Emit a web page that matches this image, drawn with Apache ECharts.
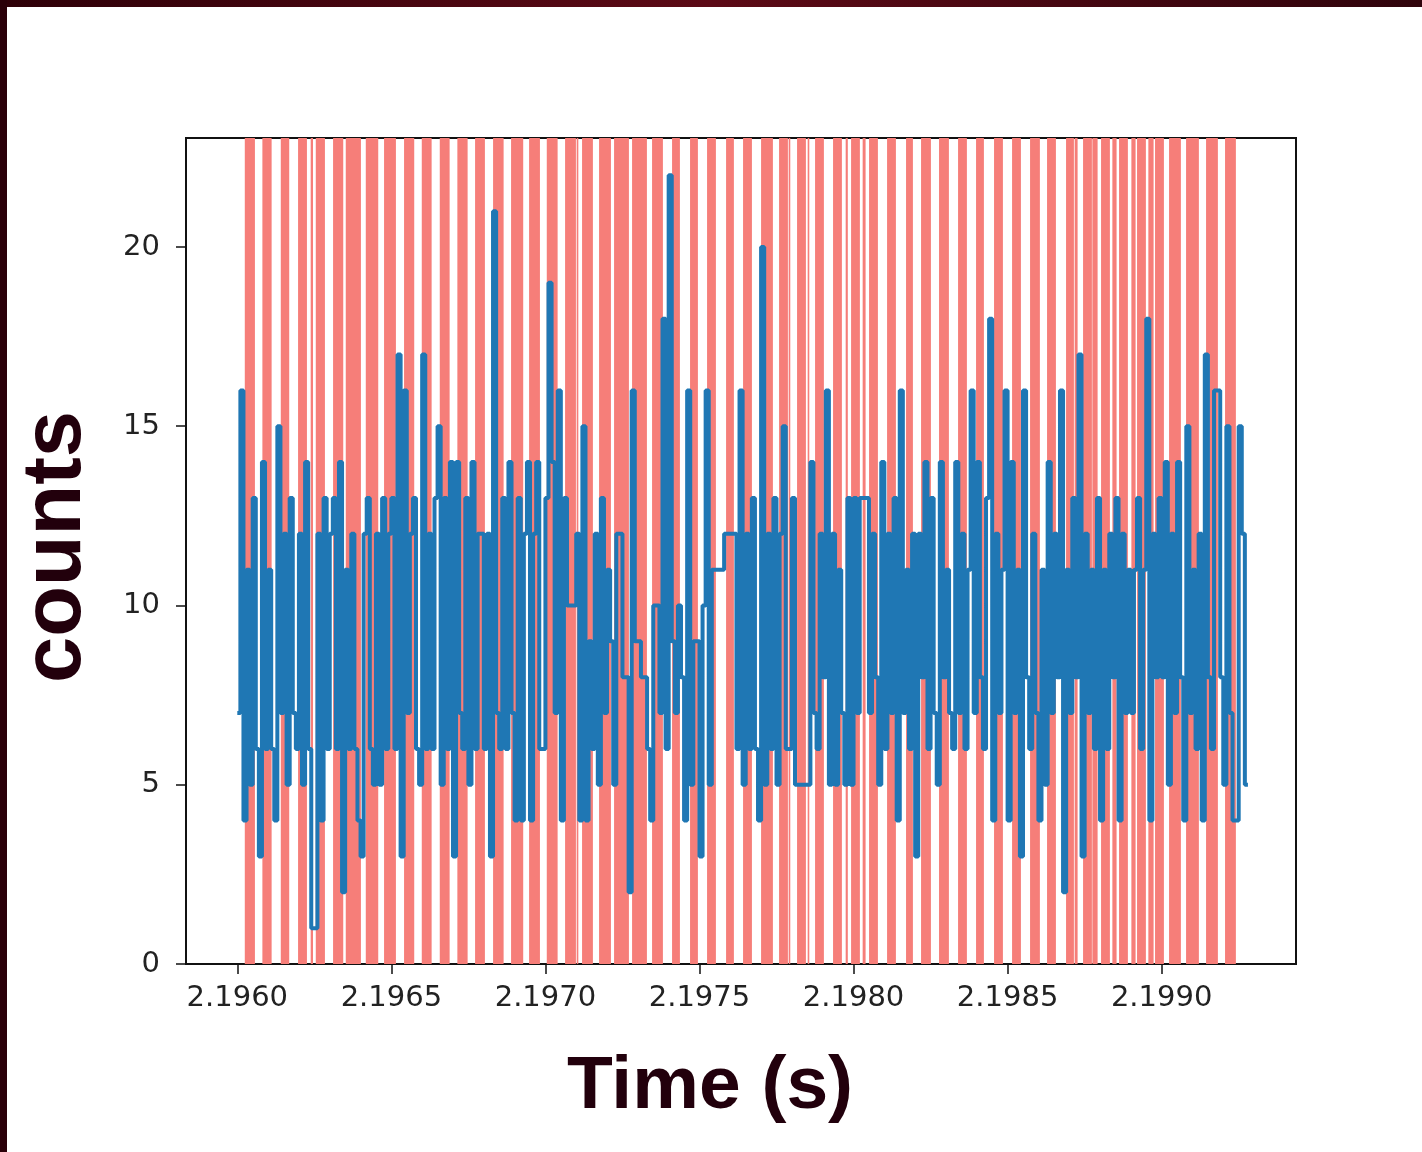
<!DOCTYPE html>
<html>
<head>
<meta charset="utf-8">
<script src="https://cdn.jsdelivr.net/npm/echarts@6/dist/echarts.min.js"></script>
<style>
  html, body { margin: 0; padding: 0; background: #ffffff; }
  #chart { width: 1422px; height: 1152px; }
</style>
</head>
<body>
<div id="chart"></div>
<script>
// ---- data ----
const binStart = 2.19600;     // s, left edge of first bin
const binWidth = 0.00001;     // s, bin width
const counts = [
  7,16,4,11,5,13,6,3,14,6,
  11,6,4,15,7,12,5,13,7,6,
  12,5,14,6,1,1,12,4,13,6,
  12,13,6,14,2,11,6,12,6,4,
  3,12,13,6,5,12,5,13,6,12,
  13,6,17,3,16,7,12,13,6,5,
  17,6,12,6,13,15,5,13,6,14,
  3,14,7,6,13,5,14,6,12,12,
  6,12,3,21,7,6,13,6,14,7,
  4,13,4,12,14,4,12,14,6,6,
  13,19,14,7,16,4,13,10,10,10,
  12,4,15,4,9,6,12,5,13,7,
  11,9,5,12,12,8,8,2,16,9,
  9,8,8,6,4,10,10,7,18,6,
  22,9,7,10,8,4,16,5,9,9,
  3,10,16,5,11,11,11,11,12,12,
  12,12,6,16,5,12,6,13,6,4,
  20,5,12,6,13,5,12,15,6,6,
  13,5,5,5,5,5,14,7,6,12,
  8,16,5,12,5,11,7,5,13,5,
  13,7,13,13,13,7,12,8,5,14,
  6,12,7,13,4,16,7,11,6,12,
  3,12,8,14,6,13,7,5,14,8,
  11,7,6,14,7,12,6,11,16,7,
  14,8,6,13,18,4,12,7,11,16,
  4,14,7,11,3,16,8,6,12,7,
  4,11,5,14,7,12,8,16,2,11,
  7,13,8,17,3,12,7,11,6,13,
  4,11,6,12,8,13,4,12,7,11,
  7,11,13,6,11,18,4,12,8,13,
  8,14,5,12,7,14,8,4,15,7,
  11,6,12,4,17,8,6,16,16,8,
  5,15,7,4,4,15,12,5
];
// shaded intervals, microseconds after 2.1960 s
const bandBase = 2.1960;
const bandStartUs = [24.3,81.4,141.1,197.2,238.2,254.7,310.8,352.0,417.0,476.3,541.2,598.7,657.1,714.2,771.7,830.1,888.5,947.0,1004.4,1063.8,1101.5,1118.9,1174.1,1222.8,1281.2,1346.1,1411.0,1469.4,1524.6,1586.3,1641.4,1699.9,1758.3,1789.5,1816.7,1851.2,1875.1,1933.5,1974.5,1992.0,2029.6,2050.4,2108.8,2170.4,2219.1,2277.5,2339.2,2397.6,2456.0,2514.5,2572.9,2628.0,2689.7,2717.7,2744.9,2775.1,2803.3,2840.0,2861.7,2901.7,2920.1,2956.8,2978.5,3024.0,3079.2,3144.1,3205.7];
const bandEndUs   = [57.2,111.4,168.5,226.0,245.7,284.4,343.8,401.2,457.4,514.8,574.2,630.7,689.1,747.5,803.6,864.3,927.9,982.2,1039.6,1099.0,1106.8,1154.1,1212.6,1271.0,1329.4,1381.3,1436.5,1494.9,1553.3,1611.7,1670.2,1738.3,1787.0,1794.7,1845.4,1856.4,1903.8,1962.2,1981.4,2020.6,2039.1,2079.1,2137.5,2192.7,2251.1,2309.5,2367.9,2423.1,2484.8,2543.2,2604.8,2656.8,2715.2,2727.2,2773.6,2792.1,2832.0,2853.7,2890.4,2915.4,2948.8,2973.8,3007.3,3062.4,3120.8,3182.5,3240.9];
const xTicks = [2.1960, 2.1965, 2.1970, 2.1975, 2.1980, 2.1985, 2.1990];
const yTicks = [0, 5, 10, 15, 20];
const xMin = 2.1958335, xMax = 2.199436;
const yMin = 0, yMax = 23.04;

// ---- build ----
const lineData = counts.map((c, i) => [binStart + i * binWidth, c]);
lineData.push([binStart + counts.length * binWidth, counts[counts.length - 1]]);
const bandData = bandStartUs.map((s, i) => [bandBase + s * 1e-6, bandBase + bandEndUs[i] * 1e-6, 0]);

const chart = echarts.init(document.getElementById('chart'), null, { renderer: 'canvas' });
const tickFont = { fontFamily: 'DejaVu Sans', fontSize: 29, color: '#222' };

chart.setOption({
  backgroundColor: '#ffffff',
  animation: false,
  grid: {
    left: 186, top: 138, width: 1110, height: 826,
    show: true, borderColor: '#111', borderWidth: 2,
    backgroundColor: 'transparent', outerBoundsMode: 'none', containLabel: false
  },
  xAxis: {
    type: 'value', min: xMin, max: xMax,
    axisLine: { show: true, onZero: false, lineStyle: { color: '#111', width: 2 } },
    axisTick: { show: true, inside: false, length: 10, customValues: xTicks, lineStyle: { color: '#111', width: 1.5 } },
    axisLabel: Object.assign({ margin: 20, customValues: xTicks, formatter: v => v.toFixed(4) }, tickFont),
    splitLine: { show: false }
  },
  yAxis: {
    type: 'value', min: yMin, max: yMax,
    axisLine: { show: true, onZero: false, lineStyle: { color: '#111', width: 2 } },
    axisTick: { show: true, inside: false, length: 10, customValues: yTicks, lineStyle: { color: '#111', width: 1.5 } },
    axisLabel: Object.assign({ margin: 26, customValues: yTicks, formatter: v => String(v) }, tickFont),
    splitLine: { show: false }
  },
  series: [
    {
      type: 'custom',
      z: 1,
      silent: true,
      data: bandData,
      encode: { x: [0, 1], y: 2 },
      renderItem: function (params, api) {
        const p0 = api.coord([api.value(0), yMax]);
        const p1 = api.coord([api.value(1), yMin]);
        return {
          type: 'rect',
          shape: { x: p0[0], y: p0[1], width: Math.max(p1[0] - p0[0], 1.5), height: p1[1] - p0[1] },
          style: { fill: '#f67e79' }
        };
      }
    },
    {
      type: 'line',
      z: 3,
      step: 'end',
      data: lineData,
      showSymbol: false,
      symbol: 'none',
      silent: true,
      lineStyle: { color: '#1f77b4', width: 4 }
    }
  ],
  graphic: [
    { type: 'rect', left: 0, top: 0, shape: { width: 1422, height: 7 },
      style: { fill: new echarts.graphic.LinearGradient(0, 0, 1, 0, [
        { offset: 0, color: '#2e0008' }, { offset: 0.5, color: '#5c0a16' }, { offset: 1, color: '#30040c' }]) }, z: 100 },
    { type: 'rect', left: 0, top: 0, shape: { width: 7, height: 1152 }, style: { fill: '#2a0008' }, z: 100 },
    { type: 'text', x: 710, y: 1087, z: 100,
      style: { text: 'Time (s)', font: 'bold 75px "Liberation Sans", Arial, sans-serif', fill: '#22000c',
               textAlign: 'center', textVerticalAlign: 'middle' } },
    { type: 'text', x: 57, y: 547, rotation: Math.PI / 2, z: 100,
      style: { text: 'counts', font: 'bold 83px "Liberation Sans", Arial, sans-serif', fill: '#22000c',
               textAlign: 'center', textVerticalAlign: 'middle' } }
  ]
});
</script>
</body>
</html>
